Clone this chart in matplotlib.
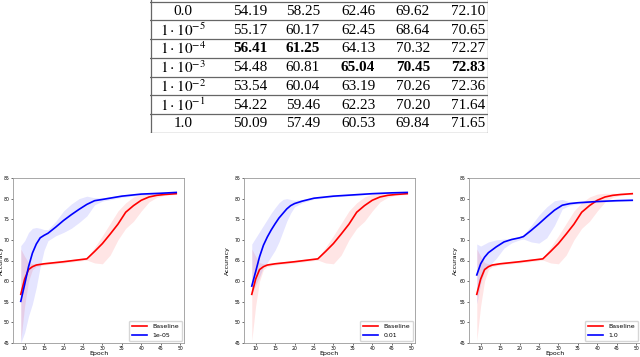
import numpy as np
import matplotlib.pyplot as plt

# ---------------- table data ----------------
row_labels = ["0.0", r"$1\cdot10^{-5}$", r"$1\cdot10^{-4}$", r"$1\cdot10^{-3}$",
              r"$1\cdot10^{-2}$", r"$1\cdot10^{-1}$", "1.0"]
table_values = [
    [54.19, 58.25, 62.46, 69.62, 72.10],
    [55.17, 60.17, 62.45, 68.64, 70.65],
    [56.41, 61.25, 64.13, 70.32, 72.27],
    [54.48, 60.81, 65.04, 70.45, 72.83],
    [53.54, 60.04, 63.19, 70.26, 72.36],
    [54.22, 59.46, 62.23, 70.20, 71.64],
    [50.09, 57.49, 60.53, 69.84, 71.65],
]
bold_cells = [(2, 0), (2, 1), (3, 2), (3, 3), (3, 4)]

# ---------------- curve data ----------------
red_epochs = [9, 10, 11, 12, 13, 15, 20, 26, 28, 30, 32, 34, 36, 38, 40, 42, 44, 46, 49]
red_mean = [56.8, 60.5, 62.8, 63.5, 63.9, 64.2, 64.7, 65.4, 67.2, 69.1, 71.4, 73.8, 76.7, 78.3, 79.6, 80.4, 80.8, 81.0, 81.2]
red_hi = [67.8, 66.0, 64.5, 64.2, 64.3, 64.5, 65.0, 65.7, 68.2, 71.0, 74.0, 77.0, 79.0, 80.4, 81.1, 81.3, 81.3, 81.3, 81.3]
red_lo = [45.5, 54.0, 60.0, 62.8, 63.5, 63.9, 64.4, 65.1, 64.4, 64.2, 66.3, 70.0, 72.8, 74.5, 77.0, 79.2, 80.3, 80.8, 81.0]

b1_epochs = [9, 10, 11, 12, 13, 14, 15, 16, 18, 20, 22, 24, 26, 28, 30, 35, 40, 45, 49]
b1_mean = [55.1, 59.2, 63.5, 66.8, 69.0, 70.5, 71.1, 71.6, 73.1, 74.7, 76.1, 77.4, 78.6, 79.5, 79.8, 80.6, 81.1, 81.3, 81.5]
b1_hi = [68.6, 69.8, 71.8, 72.8, 73.0, 72.8, 72.5, 72.5, 74.5, 77.0, 78.7, 80.0, 80.6, 80.2, 80.2, 80.9, 81.3, 81.5, 81.6]
b1_lo = [45.0, 47.5, 51.5, 54.5, 58.5, 63.5, 67.5, 69.8, 71.0, 71.8, 72.8, 74.2, 75.8, 78.5, 79.4, 80.3, 80.9, 81.1, 81.4]

b2_epochs = [9, 10, 11, 12, 13, 14, 15, 16, 17, 18, 19, 20, 22, 25, 30, 35, 40, 45, 49]
b2_mean = [58.8, 62.3, 65.9, 68.7, 70.7, 72.4, 73.9, 75.3, 76.4, 77.5, 78.3, 78.8, 79.4, 80.1, 80.6, 80.9, 81.2, 81.4, 81.5]
b2_hi = [69.0, 70.5, 72.0, 73.5, 75.0, 76.5, 77.8, 79.0, 79.8, 80.0, 79.8, 79.6, 79.8, 80.3, 80.8, 81.1, 81.3, 81.5, 81.6]
b2_lo = [57.0, 59.0, 61.0, 63.5, 64.5, 66.0, 67.5, 69.5, 72.0, 74.5, 76.5, 78.0, 79.0, 79.9, 80.4, 80.7, 81.1, 81.3, 81.4]

b3_epochs = [9, 10, 11, 12, 14, 16, 18, 20, 21, 23, 25, 27, 29, 31, 33, 35, 40, 45, 49]
b3_mean = [61.5, 64.2, 65.8, 66.9, 68.3, 69.5, 70.1, 70.5, 70.8, 72.3, 73.9, 75.6, 77.2, 78.4, 78.8, 79.0, 79.3, 79.5, 79.6]
b3_hi = [69.0, 68.5, 69.0, 69.5, 70.0, 70.2, 70.3, 70.8, 71.2, 73.5, 76.0, 78.0, 79.5, 79.8, 79.2, 79.3, 79.5, 79.7, 79.8]
b3_lo = [54.5, 59.5, 62.5, 63.5, 65.5, 68.0, 69.3, 70.0, 70.2, 69.5, 69.2, 70.5, 73.5, 77.5, 78.4, 78.7, 79.1, 79.3, 79.4]

variants = [
    ("1e-05", b1_epochs, b1_mean, b1_lo, b1_hi),
    ("0.01", b2_epochs, b2_mean, b2_lo, b2_hi),
    ("1.0", b3_epochs, b3_mean, b3_lo, b3_hi),
]

plt.rcParams['mathtext.fontset'] = 'stix'
fig = plt.figure(figsize=(6.4, 3.57), dpi=100)

# ---------------- table ----------------
W, H = 640, 357
tab = fig.add_axes([150 / W, (H - 133) / H, 338 / W, 133 / H])
tab.set_xlim(0, 338)
tab.set_ylim(7, -0.09)
tab.axis('off')
col_x = [33, 100, 153, 208, 263, 318]
for r in range(len(row_labels) + 1):
    tab.axhline(r, color='#666666', lw=0.9)
tab.axvline(0.5, color='#666666', lw=0.9)
tab.axvline(337.5, color='#666666', lw=0.9)
for i, lab in enumerate(row_labels):
    tab.text(col_x[0], i + 0.52, lab, ha='center', va='center',
             fontsize=11, family='Liberation Serif')
    for j, v in enumerate(table_values[i]):
        tab.text(col_x[j + 1], i + 0.52, f"{v:.2f}", ha='center', va='center',
                 fontsize=11, family='Liberation Serif',
                 fontweight='bold' if (i, j) in bold_cells else 'normal')

# ---------------- curves ----------------
lefts = [13, 244, 469]
ylabel_x = [-0.052, -0.08, -0.064]
for left, lx, (name, ep, mean, lo, hi) in zip(lefts, ylabel_x, variants):
    ax = fig.add_axes([left / W, 14 / H, 171 / W, 165 / H])
    ax.fill_between(red_epochs, red_lo, red_hi, color='red', alpha=0.1, lw=0)
    ax.fill_between(ep, lo, hi, color='blue', alpha=0.1, lw=0)
    ax.plot(red_epochs, red_mean, color='red', lw=1.2, label='Baseline')
    ax.plot(ep, mean, color='blue', lw=1.2, label=name)
    ax.set_ylim(45, 85)
    ax.set_yticks(range(45, 86, 5))
    ax.set_xticks(range(10, 51, 5))
    ax.tick_params(labelsize=3.3, length=1.5, width=0.4, pad=1)
    ax.set_xlabel("Epoch", fontsize=4.5, labelpad=0)
    ax.set_ylabel("Accuracy", fontsize=4.5)
    ax.yaxis.set_label_coords(lx, 0.5)
    for s in ax.spines.values():
        s.set_color('#999999')
        s.set_linewidth(0.6)
    ax.legend(loc='lower right', fontsize=4.5, handlelength=2.5, borderpad=0.5,
              borderaxespad=0.3)

plt.savefig("out.png", dpi=100)
